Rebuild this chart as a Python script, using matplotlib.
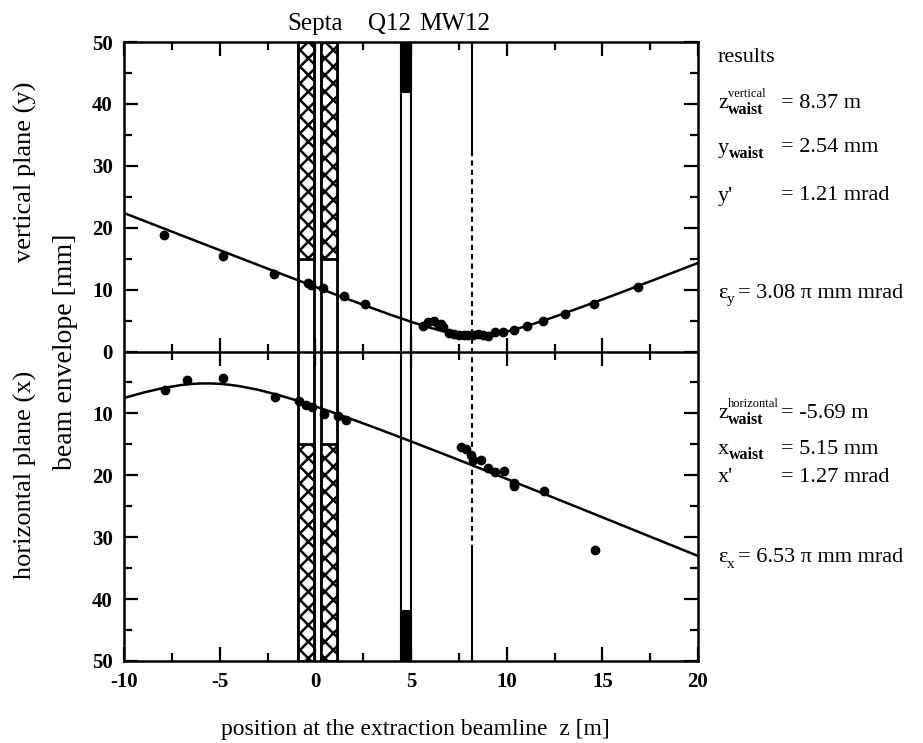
import numpy as np
import matplotlib.pyplot as plt
from matplotlib.patches import Rectangle
from matplotlib.transforms import blended_transform_factory

plt.rcParams['font.family'] = ['Liberation Serif', 'DejaVu Serif']
plt.rcParams['axes.unicode_minus'] = False
plt.rcParams['hatch.linewidth'] = 1.8

# fitted envelopes
z_fit_v = [-10, -9, -8, -7, -6, -5, -4, -3, -2, -1, 0, 1, 2, 3, 4, 5, 6, 7, 7.5,
           8, 8.5, 9, 9.5, 10, 11, 12, 13, 14, 15, 16, 17, 18, 19, 20]
y_fit = [22.37, 21.17, 19.97, 18.77, 17.57, 16.38, 15.18, 13.99, 12.80, 11.62,
         10.44, 9.27, 8.12, 6.98, 5.86, 4.80, 3.83, 3.03, 2.75, 2.58, 2.55, 2.65,
         2.88, 3.22, 4.07, 5.07, 6.15, 7.27, 8.41, 9.57, 10.74, 11.92, 13.11, 14.30]
z_fit_h = [-10, -9, -8, -7, -6.5, -6, -5.5, -5, -4.5, -4, -3, -2, -1, 0, 1, 2, 3, 4,
           5, 6, 7, 8, 9, 10, 11, 12, 13, 14, 15, 16, 17, 18, 19, 20]
x_fit = [7.51, 6.65, 5.93, 5.41, 5.25, 5.16, 5.16, 5.22, 5.37, 5.58, 6.18, 6.97,
         7.88, 8.87, 9.93, 11.04, 12.18, 13.34, 14.52, 15.72, 16.92, 18.13, 19.36,
         20.58, 21.82, 23.05, 24.29, 25.53, 26.78, 28.03, 29.28, 30.53, 31.78, 33.03]

# measured points
z_v = [-7.9, -4.85, -2.15, -0.4, -0.23, 0.38, 1.52, 2.62, 5.62, 5.88, 6.18, 6.46,
       6.58, 6.67, 7.0, 7.25, 7.5, 7.75, 8.0, 8.25, 8.5, 8.75, 9.0, 9.37, 9.83,
       10.37, 11.05, 11.9, 13.03, 14.58, 16.86]
y_v = [18.9, 15.5, 12.6, 11.1, 10.8, 10.2, 8.9, 7.6, 4.2, 4.7, 5.0, 4.2, 4.5, 3.9,
       3.0, 2.8, 2.7, 2.7, 2.6, 2.7, 2.8, 2.6, 2.5, 3.1, 3.2, 3.5, 4.1, 4.9, 6.0,
       7.7, 10.4]
z_h = [-7.85, -6.69, -4.8, -2.09, -0.84, -0.49, -0.2, 0.44, 1.17, 1.6, 7.63, 7.89,
       8.15, 8.24, 8.67, 9.02, 9.37, 9.84, 10.38, 10.38, 11.94, 14.64]
x_h = [6.3, 4.6, 4.3, 7.4, 8.0, 8.6, 8.9, 10.1, 10.4, 11.0, 15.5, 15.8, 16.8, 17.6,
       17.6, 18.8, 19.5, 19.3, 21.3, 21.8, 22.6, 32.0]

# beamline elements (z ranges in m)
septa = [(-0.9, -0.05), (0.28, 1.15)]
septa_open = 15
q12 = (4.47, 5.0)
q12_open = 42
mw12 = 8.2
mw12_open = 32

fig = plt.figure(figsize=(9.23, 7.43), dpi=100)
ax = fig.add_axes([124/923, 1-661/743, 574/923, 619/743])

for lo, hi in septa:
    ax.add_patch(Rectangle((lo, -50), hi-lo, 100, fill=False, ec='black', lw=2))
    for y0 in (septa_open, -50):
        ax.add_patch(Rectangle((lo, y0), hi-lo, 50-septa_open, fc='white',
                               ec='black', lw=2, hatch='xx'))
ax.add_patch(Rectangle((q12[0], -50), q12[1]-q12[0], 100, fill=False, ec='black', lw=1.5))
for y0 in (q12_open, -50):
    ax.add_patch(Rectangle((q12[0], y0), q12[1]-q12[0], 50-q12_open, fc='black',
                           ec='black', lw=1.5))
ax.plot([mw12, mw12], [mw12_open, 50], color='black', lw=1.5)
ax.plot([mw12, mw12], [-mw12_open, -50], color='black', lw=1.5)
ax.plot([mw12, mw12], [-mw12_open, mw12_open], color='black', lw=1.5, ls=(0, (2.5, 2)))

ax.plot(z_fit_v, y_fit, color='black', lw=1.8)
ax.plot(z_fit_h, -np.array(x_fit), color='black', lw=1.8)
ax.plot(z_v, y_v, 'o', color='black', ms=6)
ax.plot(z_h, -np.array(x_h), 'o', color='black', ms=6)

# middle axis with ticks both ways
ax.axhline(0, color='black', lw=1.8)
major_x = [-5, 0, 5, 10, 15]
minor_x = [-7.5, -2.5, 2.5, 7.5, 12.5, 17.5]
ax.plot(major_x, [0]*len(major_x), ls='none', marker='|', ms=20, mew=1.6, color='black')
ax.plot(minor_x, [0]*len(minor_x), ls='none', marker='|', ms=11, mew=1.6, color='black')

ax.set_xlim(-10, 20)
ax.set_ylim(-50, 50)
ax.set_xticks([-10, -5, 0, 5, 10, 15, 20])
ax.set_xticks(minor_x, minor=True)
yt = [-50, -40, -30, -20, -10, 0, 10, 20, 30, 40, 50]
ax.set_yticks(yt)
ax.set_yticklabels([str(abs(v)) for v in yt])
ax.set_yticks([-45, -35, -25, -15, -5, 5, 15, 25, 35, 45], minor=True)
ax.tick_params(which='both', direction='in', top=True, right=True, width=1.6)
ax.tick_params(which='major', length=10, pad=8, labelsize=15)
ax.tick_params(which='minor', length=6)
for lab in ax.get_xticklabels() + ax.get_yticklabels():
    lab.set_fontweight('bold')
for s in ax.spines.values():
    s.set_linewidth(1.8)

tr = blended_transform_factory(ax.transData, ax.transAxes)
ax.text(0, 1.012, 'Septa', transform=tr, ha='center', va='bottom', fontsize=18)
ax.text(3.87, 1.012, 'Q12', transform=tr, ha='center', va='bottom', fontsize=18)
ax.text(7.3, 1.012, 'MW12', transform=tr, ha='center', va='bottom', fontsize=18)

fig.text(25/923, 1-172/743, 'vertical plane (y)', rotation=90, ha='center', va='center', fontsize=19)
fig.text(25/923, 1-475/743, 'horizontal plane (x)', rotation=90, ha='center', va='center', fontsize=19)
fig.text(66/923, 1-352/743, 'beam envelope [mm]', rotation=90, ha='center', va='center', fontsize=20)
fig.text(415/923, 1-729/743, 'position at the extraction beamline  z [m]', ha='center', va='center', fontsize=17)


def px(x, y):
    return x/923, 1-y/743


fs = 16
xl, xe = 718, 781
fig.text(*px(xl, 58), 'results', ha='left', va='center', fontsize=fs)
# letter, superscript, subscript, value, row centre
sym_rows = [
    ('z', 'vertical', 'waist', '= 8.37 m', 104),
    ('y', '', 'waist', '= 2.54 mm', 148),
    ("y'", '', '', '= 1.21 mrad', 196),
    ('z', 'horizontal', 'waist', '= -5.69 m', 414),
    ('x', '', 'waist', '= 5.15 mm', 449),
    ("x'", '', '', '= 1.27 mrad', 478),
]
for letter, sup, sub, val, yc in sym_rows:
    fig.text(*px(xl, yc), letter, ha='left', va='center', fontsize=fs)
    off = xl + (10 if letter == 'z' else 11)
    if sup:
        fig.text(*px(off, yc-10), sup, ha='left', va='center', fontsize=9)
    if sub:
        fig.text(*px(off, yc+6), sub, ha='left', va='center', fontsize=11.5,
                 fontweight='bold')
    fig.text(*px(xe, yc), val, ha='left', va='center', fontsize=fs)

fig.text(*px(xl, 293), 'ε', ha='left', va='center', fontsize=fs)
fig.text(*px(xl+9, 300), 'y', ha='left', va='center', fontsize=11)
fig.text(*px(xl+20, 293), '= 3.08 π mm mrad', ha='left', va='center', fontsize=fs)
fig.text(*px(xl, 557), 'ε', ha='left', va='center', fontsize=fs)
fig.text(*px(xl+9, 564), 'x', ha='left', va='center', fontsize=11)
fig.text(*px(xl+20, 557), '= 6.53 π mm mrad', ha='left', va='center', fontsize=fs)

fig.savefig('out.png', dpi=100)
